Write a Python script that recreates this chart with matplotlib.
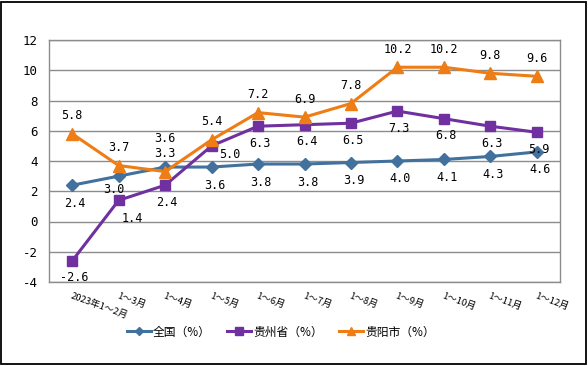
import matplotlib
matplotlib.use('Agg')
import matplotlib.pyplot as plt
import matplotlib.transforms as mtransforms
from matplotlib.patches import Rectangle

plt.rcParams['font.family'] = ['Noto Sans CJK SC', 'DejaVu Sans']

# Data
months = ['2023年1～2月', '1～3月', '1～4月', '1～5月', '1～6月', '1～7月',
          '1～8月', '1～9月', '1～10月', '1～11月', '1～12月']
national = [2.4, 3.0, 3.6, 3.6, 3.8, 3.8, 3.9, 4.0, 4.1, 4.3, 4.6]
guizhou = [-2.6, 1.4, 2.4, 5.0, 6.3, 6.4, 6.5, 7.3, 6.8, 6.3, 5.9]
guiyang = [5.8, 3.7, 3.3, 5.4, 7.2, 6.9, 7.8, 10.2, 10.2, 9.8, 9.6]
y_ticks = [-4, -2, 0, 2, 4, 6, 8, 10, 12]

c_blue = '#41719C'
c_purple = '#7030A0'
c_orange = '#ED7D14'

fig = plt.figure(figsize=(5.88, 3.66), dpi=100)
ax = fig.add_axes([49 / 588, 1 - 282 / 366, 511 / 588, 242 / 366])

x = list(range(len(months)))
ax.plot(x, national, color=c_blue, lw=2.2, marker='D', ms=6, label='全国（%）')
ax.plot(x, guizhou, color=c_purple, lw=2.2, marker='s', ms=7.5, label='贵州省（%）')
ax.plot(x, guiyang, color=c_orange, lw=2.2, marker='^', ms=8, label='贵阳市（%）')

ax.set_xlim(-0.5, len(months) - 0.5)
ax.set_ylim(-4, 12)
ax.set_yticks(y_ticks)
ax.set_yticklabels([str(v) for v in y_ticks], fontsize=9, family='DejaVu Sans Mono')
ax.grid(axis='y', color='#8c8c8c', lw=1)
ax.set_axisbelow(True)
for s in ax.spines.values():
    s.set_color('#8c8c8c')
    s.set_linewidth(1)
ax.tick_params(length=0, pad=8)

# rotated x labels
ax.set_xticks(x)
ax.set_xticklabels(months, fontsize=6.8, rotation=-20, ha='left', va='top',
                   rotation_mode='anchor')
offset = mtransforms.ScaledTranslation(-8 / 100, 0, fig.dpi_scale_trans)
for lbl in ax.get_xticklabels():
    lbl.set_transform(lbl.get_transform() + offset)
ax.tick_params(axis='x', pad=7)

# data labels
def put(i, val, dx, dy):
    ax.annotate(f'{val:.1f}', (i, val), xytext=(dx, dy), textcoords='offset pixels',
                ha='center', va='center', fontsize=8.5, family='DejaVu Sans Mono')

for i, v in enumerate(guiyang):
    put(i, v, 0, 18)
for i, v in enumerate(national):
    if i == 2:
        put(i, v, 0, 29)
    elif i == 1:
        put(i, v, -5, -13)
    else:
        put(i, v, 3, -18)
for i, v in enumerate(guizhou):
    if i == 1:
        put(i, v, 14, -18)
    elif i == 3:
        put(i, v, 18, -9)
    else:
        put(i, v, 2, -17)

fig.legend(loc='center', bbox_to_anchor=(281 / 588, 1 - 332 / 366), ncol=3,
           frameon=False, fontsize=8.5, handlelength=2.0, columnspacing=1.4,
           handletextpad=0.2, markerscale=0.75)

fig.patches.append(Rectangle((1 / 588, 2 / 366), 585 / 588, 362 / 366,
                             transform=fig.transFigure, fill=False,
                             edgecolor='black', lw=1.3))

fig.savefig('out.png', dpi=100)
